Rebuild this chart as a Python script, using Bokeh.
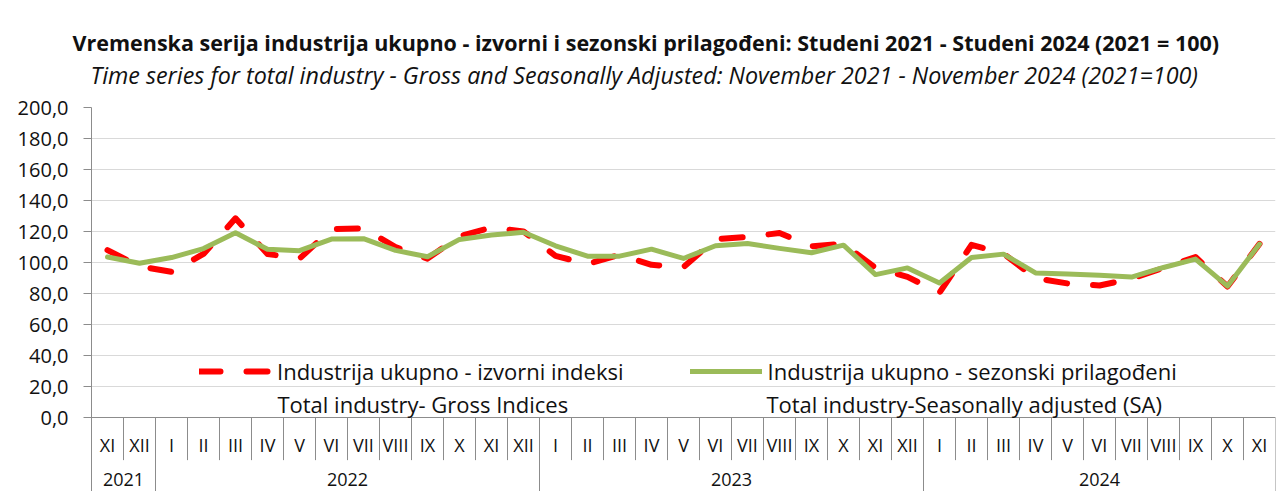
from bokeh.plotting import figure
from bokeh.models import (Range1d, FixedTicker, CustomJSTickFormatter, Title, Legend,
                          LegendItem, Label, Span)
from bokeh.core.properties import value
from bokeh.embed import file_html
from bokeh.resources import INLINE

months = ["XI", "XII",
          "I", "II", "III", "IV", "V", "VI", "VII", "VIII", "IX", "X", "XI", "XII",
          "I", "II", "III", "IV", "V", "VI", "VII", "VIII", "IX", "X", "XI", "XII",
          "I", "II", "III", "IV", "V", "VI", "VII", "VIII", "IX", "X", "XI"]
years = ["2021"] * 2 + ["2022"] * 12 + ["2023"] * 12 + ["2024"] * 11

gross = [108.0, 97.5,
         94.0, 105.5, 128.5, 105.5, 102.5, 121.5, 122.0, 110.0, 102.5, 117.0, 122.5, 120.0,
         104.3, 99.0, 105.0, 98.5, 97.0, 115.0, 116.5, 119.0, 110.5, 112.0, 96.5, 90.7,
         80.5, 111.4, 105.8, 89.8, 86.5, 85.2, 89.5, 96.5, 103.5, 84.5, 112.0]
sa = [103.5, 99.5,
      103.2, 109.0, 119.2, 108.5, 107.6, 115.1, 115.4, 107.8, 103.7, 114.9, 117.7, 119.5,
      110.8, 104.1, 104.1, 108.6, 102.6, 110.8, 112.3, 109.1, 106.3, 111.2, 92.2, 96.5,
      86.8, 103.2, 105.4, 93.3, 92.6, 91.7, 90.6, 96.8, 102.2, 84.7, 111.9]
y_ticks = [0, 20, 40, 60, 80, 100, 120, 140, 160, 180, 200]

label_gross = "Industrija ukupno - izvorni indeksi"
label_gross2 = "Total industry- Gross Indices"
label_sa = "Industrija ukupno - sezonski prilagođeni"
label_sa2 = "Total industry-Seasonally adjusted (SA)"
title1 = "Vremenska serija industrija ukupno - izvorni i sezonski prilagođeni: Studeni 2021 - Studeni 2024 (2021 = 100)"
title2 = "Time series for total industry - Gross and Seasonally Adjusted: November 2021 - November 2024 (2021=100)"

FONT = "Open Sans"
AX = "#8c8c8c"
TXT = "#111111"
Y_BOTTOM = -47.74

n = len(months)
xc = [i + 0.5 for i in range(n)]

p = figure(width=1281, height=491, output_backend="svg", toolbar_location=None,
           x_range=Range1d(0, n), y_range=Range1d(Y_BOTTOM, 200),
           min_border_left=91, min_border_right=6, min_border_top=107, min_border_bottom=0,
           x_axis_location=None)
p.outline_line_color = None
p.xgrid.visible = False
p.ygrid.ticker = FixedTicker(ticks=y_ticks)
p.ygrid.grid_line_color = "#d9d9d9"
p.ygrid.grid_line_width = 1

ya = p.yaxis[0]
ya.ticker = FixedTicker(ticks=y_ticks)
ya.formatter = CustomJSTickFormatter(code="return tick.toFixed(1).replace('.', ',');")
ya.axis_line_color = AX
ya.major_tick_line_color = AX
ya.major_tick_out = 8
ya.major_tick_in = 0
ya.minor_tick_line_color = None
ya.major_label_standoff = 15
ya.major_label_text_font = FONT
ya.major_label_text_font_size = "20px"
ya.major_label_text_color = TXT

# category table of the x axis
groups = []
for i, yv in enumerate(years):
    if not groups or groups[-1][0] != yv:
        groups.append([yv, i, i + 1])
    else:
        groups[-1][2] = i + 1
year_x = [(g[1] + g[2]) / 2 for g in groups]
year_lbl = [g[0] for g in groups]
year_bounds = [groups[0][1]] + [g[2] for g in groups]
month_bounds = [i for i in range(1, n) if i not in year_bounds]

p.segment(x0=month_bounds, y0=[0] * len(month_bounds), x1=month_bounds,
          y1=[-27.5] * len(month_bounds), line_color=AX, line_width=1)
p.segment(x0=year_bounds, y0=[0] * len(year_bounds), x1=year_bounds,
          y1=[Y_BOTTOM] * len(year_bounds), line_color=AX, line_width=1)
p.add_layout(Span(location=0, dimension="width", line_color=AX, line_width=1))

p.text(x=xc, y=[-18.0] * n, text=months, text_align="center", text_baseline="middle",
       text_font=value(FONT), text_font_size=value("18px"), text_color=TXT)
p.text(x=year_x, y=[-39.8] * len(year_x), text=year_lbl, text_align="center",
       text_baseline="middle", text_font=value(FONT), text_font_size=value("18px"),
       text_color=TXT)

r_red = p.line(xc, gross, line_color="#ff0000", line_width=6, line_dash="21 26",
               line_cap="round", line_join="round")
r_green = p.line(xc, sa, line_color="#9bbb59", line_width=5,
                 line_cap="round", line_join="round")

legend = Legend(items=[LegendItem(label=label_gross, renderers=[r_red]),
                       LegendItem(label=label_sa, renderers=[r_green])],
                orientation="horizontal", location=(108, 105),
                glyph_width=72, glyph_height=20, label_height=20, label_standoff=6,
                spacing=66, padding=0, margin=0, border_line_color=None,
                background_fill_alpha=0, label_text_font=FONT,
                label_text_font_size="22px", label_text_color=TXT)
p.add_layout(legend)

p.add_layout(Label(x=5.81, y=8.4, text=label_gross2, text_font=FONT, text_font_size="22px",
                   text_baseline="middle", text_color=TXT))
p.add_layout(Label(x=21.09, y=8.4, text=label_sa2, text_font=FONT, text_font_size="22px",
                   text_baseline="middle", text_color=TXT))

# titles: a blank spacer next to the plot area, then the subtitle, then the main title
p.add_layout(Title(text="\u00a0", text_font_size="1px", standoff=14), "above")
p.add_layout(Title(text=title2, align="left", offset=-1, standoff=0, text_font=FONT,
                   text_font_size="23.3px", text_font_style="italic",
                   text_color=TXT), "above")
p.add_layout(Title(text=title1, align="left", offset=-19, standoff=0, text_font=FONT,
                   text_font_size="21.5px", text_font_style="bold",
                   text_color=TXT), "above")

open("out.html", "w").write(file_html(p, INLINE))
